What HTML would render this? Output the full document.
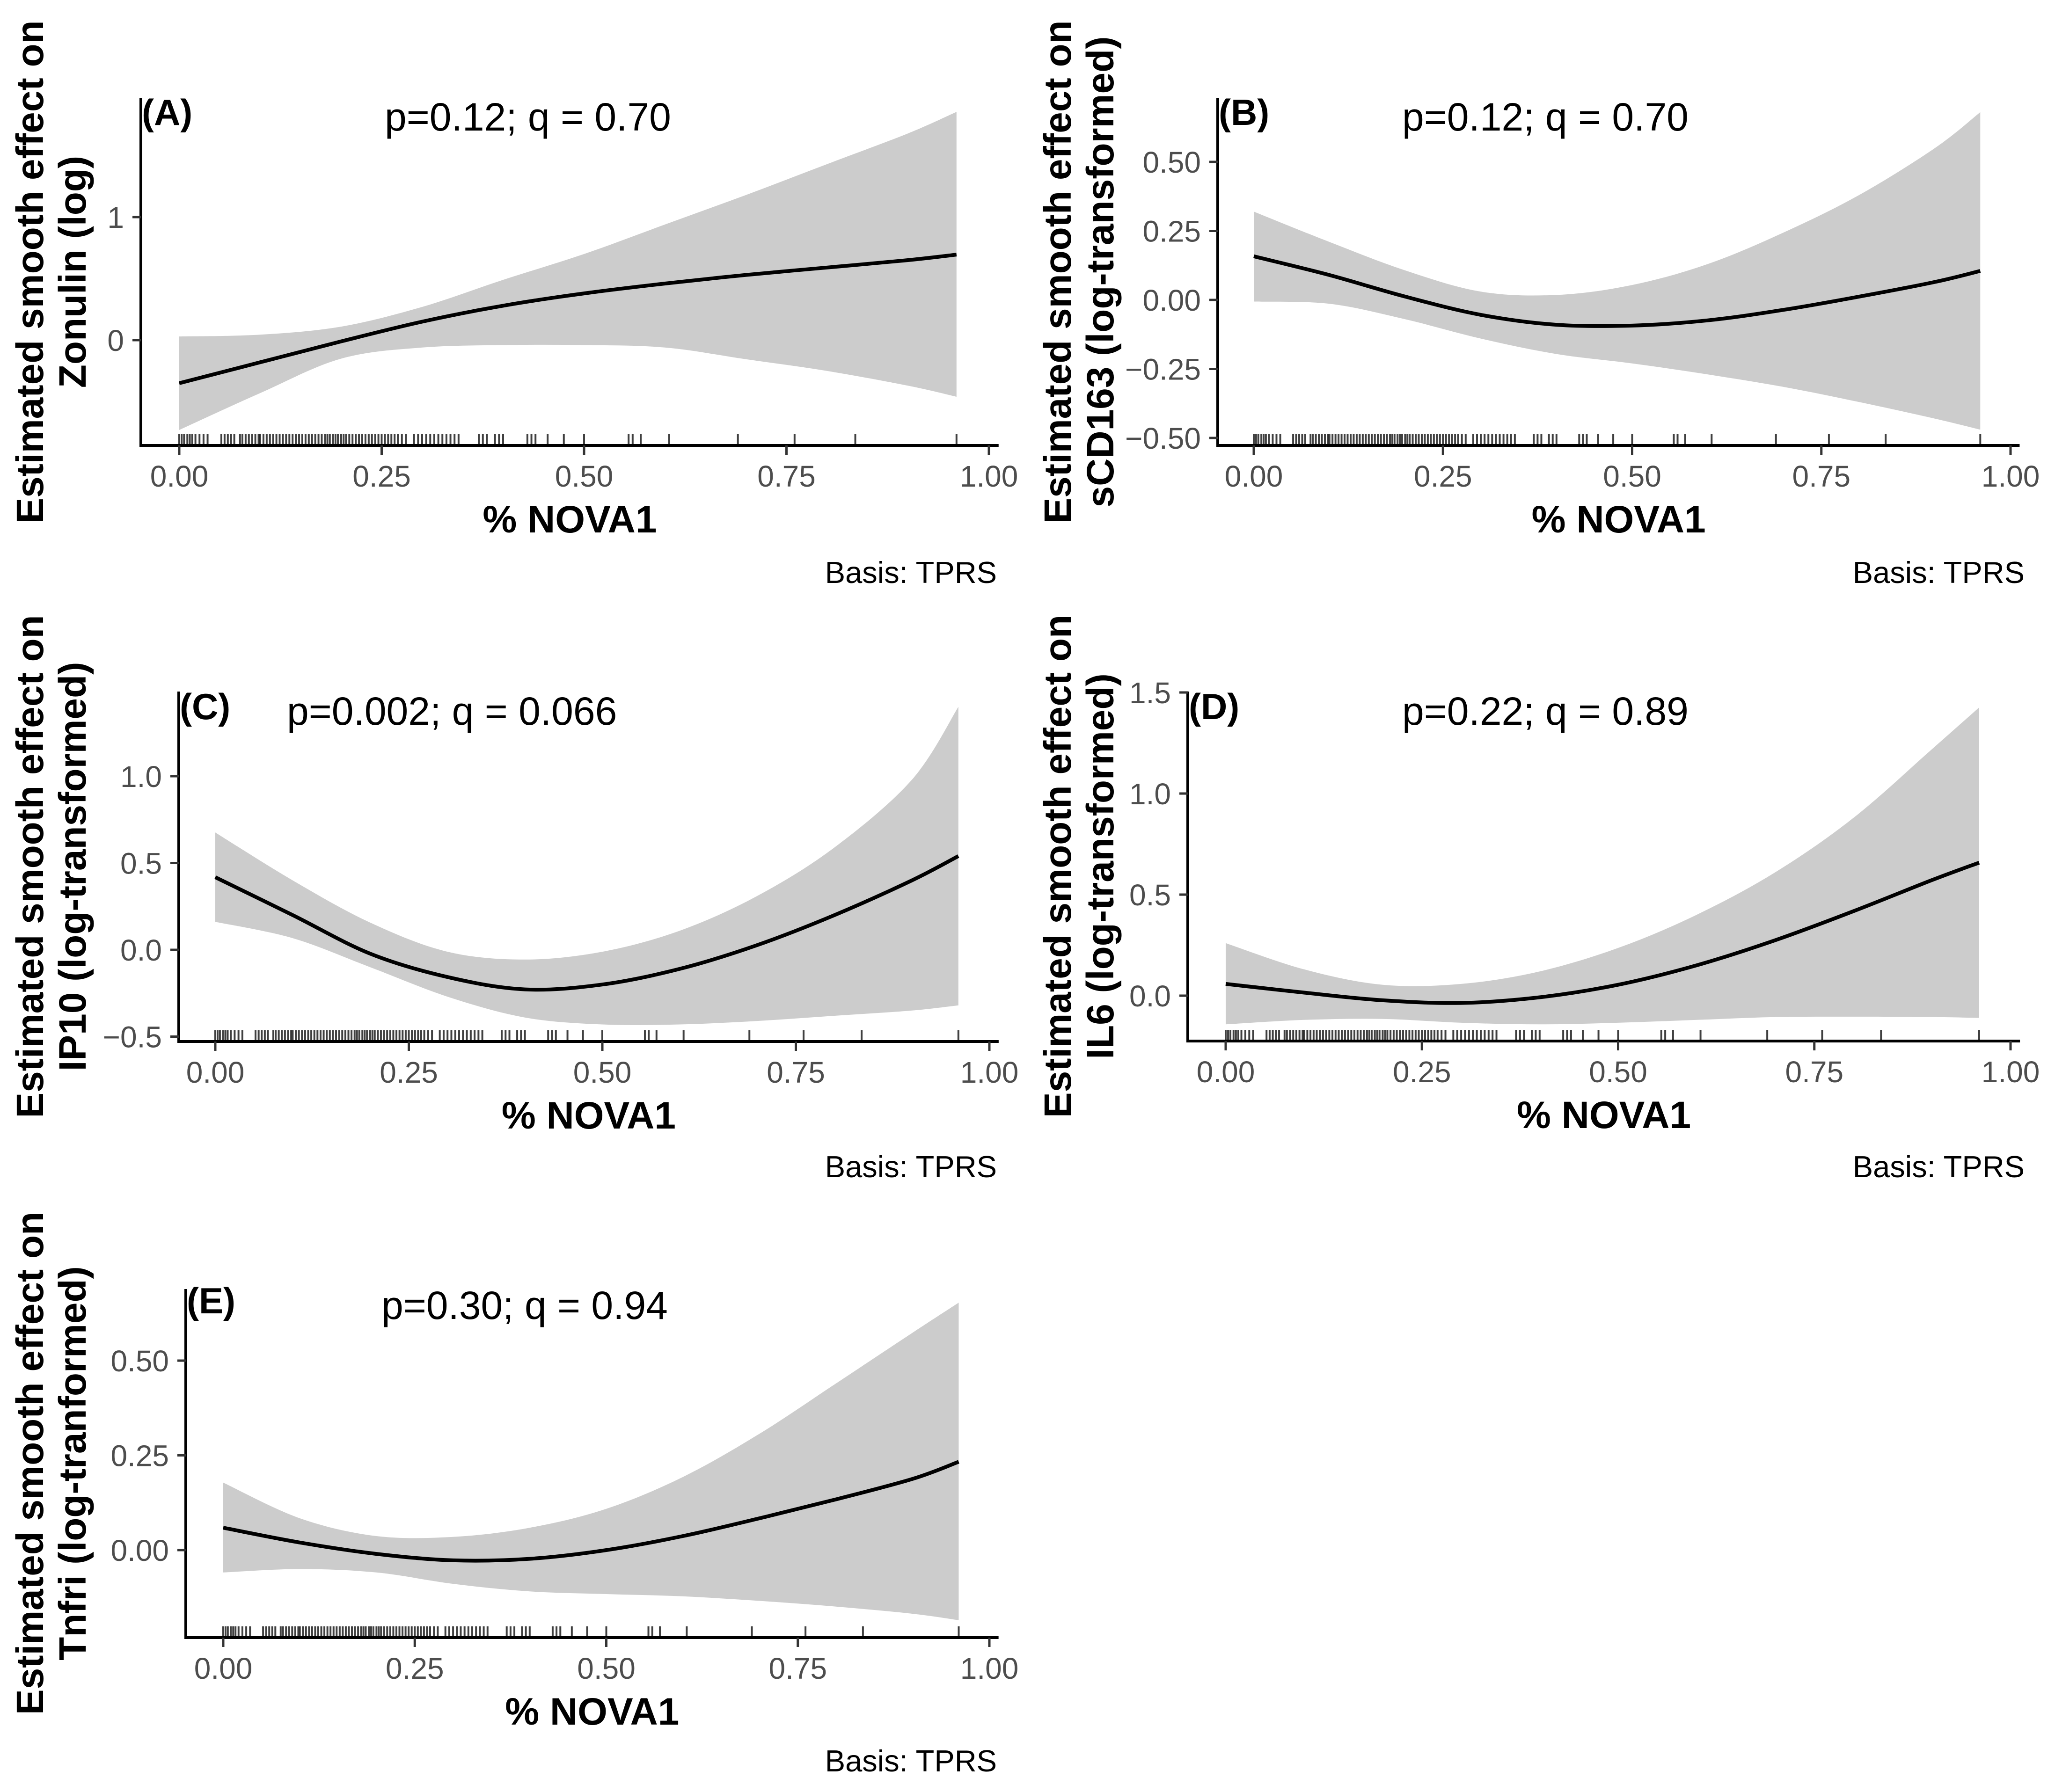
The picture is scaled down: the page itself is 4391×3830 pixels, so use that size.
<!DOCTYPE html>
<html><head><meta charset="utf-8"><style>
html,body{margin:0;padding:0;background:#fff;}
svg{display:block;}
text{font-family:"Liberation Sans",Arial,sans-serif;}
</style></head><body>
<svg id="fig" xmlns="http://www.w3.org/2000/svg" width="4391" height="3830" viewBox="0 0 4391 3830">
<rect width="4391" height="3830" fill="#fff"/>
</svg>
<script>
// x grid of evaluated points
const xGrid = [0,0.1,0.2,0.3,0.4,0.5,0.6,0.7,0.8,0.9,0.96];
// Panel A (Zonulin)
const fitA = [-0.35,-0.18,-0.01,0.15,0.28,0.38,0.46,0.53,0.59,0.65,0.695];
const upA  = [0.03,0.045,0.11,0.27,0.49,0.70,0.94,1.18,1.43,1.68,1.855];
const loA  = [-0.73,-0.43,-0.15,-0.06,-0.04,-0.04,-0.06,-0.155,-0.25,-0.37,-0.46];
// Panel B (sCD163)
const fitB = [0.158,0.09,0.012,-0.054,-0.09,-0.093,-0.074,-0.036,0.012,0.065,0.105];
const upB  = [0.32,0.21,0.107,0.03,0.018,0.054,0.13,0.244,0.38,0.55,0.68];
const loB  = [-0.006,-0.014,-0.07,-0.14,-0.196,-0.23,-0.27,-0.315,-0.37,-0.43,-0.47];
// Panel C (IP10)
const fitC = [0.418,0.2,-0.022,-0.157,-0.228,-0.2,-0.11,0.027,0.2,0.40,0.54];
const upC  = [0.676,0.40,0.157,-0.011,-0.056,-0.011,0.11,0.31,0.59,0.98,1.40];
const loC  = [0.161,0.067,-0.1,-0.27,-0.39,-0.43,-0.43,-0.41,-0.38,-0.35,-0.32];
// Panel D (IL6)
const fitD = [0.058,0.015,-0.023,-0.036,-0.008,0.054,0.15,0.274,0.418,0.572,0.658];
const upD  = [0.26,0.13,0.054,0.058,0.12,0.236,0.40,0.61,0.88,1.22,1.426];
const loD  = [-0.142,-0.12,-0.115,-0.134,-0.142,-0.134,-0.12,-0.106,-0.104,-0.106,-0.11];
// Panel E (Tnfri)
const fitE = [0.059,0.02,-0.01,-0.027,-0.023,0.0,0.037,0.084,0.134,0.188,0.233];
const upE  = [0.178,0.084,0.037,0.035,0.059,0.109,0.193,0.307,0.44,0.574,0.653];
const loE  = [-0.059,-0.05,-0.059,-0.089,-0.109,-0.116,-0.122,-0.134,-0.149,-0.168,-0.185];
// rug (observed % NOVA1 values)
const rugX = [0,0.003,0.006,0.01,0.013,0.016,0.02,0.025,0.03,0.035,0.052,0.056,0.06,0.064,0.068,0.075,0.078,0.082,0.086,0.09,0.094,0.098,0.1,0.104,0.108,0.112,0.116,0.12,0.124,0.128,0.132,0.136,0.14,0.144,0.148,0.152,0.156,0.16,0.164,0.168,0.172,0.176,0.18,0.183,0.186,0.19,0.193,0.196,0.2,0.203,0.206,0.21,0.214,0.218,0.222,0.226,0.23,0.234,0.238,0.242,0.246,0.25,0.254,0.258,0.262,0.266,0.27,0.275,0.28,0.29,0.295,0.3,0.305,0.31,0.315,0.32,0.325,0.33,0.335,0.34,0.345,0.37,0.375,0.38,0.39,0.395,0.4,0.43,0.435,0.44,0.455,0.475,0.5,0.555,0.56,0.57,0.605,0.69,0.76,0.835,0.96];
// tick labels
const xTickVals = [0,0.25,0.5,0.75,1.0];
const xTickLabels = ["0.00","0.25","0.50","0.75","1.00"];
const yTicksA = [0,1], yLabA = ["0","1"];
const yTicksB = [-0.5,-0.25,0,0.25,0.5], yLabB = ["\u22120.50","\u22120.25","0.00","0.25","0.50"];
const yTicksC = [-0.5,0,0.5,1.0], yLabC = ["\u22120.5","0.0","0.5","1.0"];
const yTicksD = [0,0.5,1.0,1.5], yLabD = ["0.0","0.5","1.0","1.5"];
const yTicksE = [0,0.25,0.5], yLabE = ["0.00","0.25","0.50"];

const NS = "http://www.w3.org/2000/svg";
const svg = document.getElementById('fig');
function mk(tag, attrs, parent){
  const e = document.createElementNS(NS, tag);
  for (const k in attrs) e.setAttribute(k, attrs[k]);
  (parent||svg).appendChild(e);
  return e;
}
function smoothPath(pts){
  let d = "M" + pts[0][0].toFixed(1) + "," + pts[0][1].toFixed(1);
  for (let i=0;i<pts.length-1;i++){
    const p0 = pts[Math.max(0,i-1)], p1 = pts[i], p2 = pts[i+1], p3 = pts[Math.min(pts.length-1,i+2)];
    const c1x = p1[0] + (p2[0]-p0[0])/6, c1y = p1[1] + (p2[1]-p0[1])/6;
    const c2x = p2[0] - (p3[0]-p1[0])/6, c2y = p2[1] - (p3[1]-p1[1])/6;
    d += " C" + c1x.toFixed(1)+","+c1y.toFixed(1)+" "+c2x.toFixed(1)+","+c2y.toFixed(1)+" "+p2[0].toFixed(1)+","+p2[1].toFixed(1);
  }
  return d;
}

const panels = [
  {id:"a", ox:0, oy:0, x0:383, x1:2113, axL:301, yZero:727, unit:263, top:210, bot:952,
   fit:fitA, up:upA, lo:loA, yt:yTicksA, yl:yLabA, label:"(A)", title:"p=0.12; q = 0.70", titleX:822,
   yTitle:["Estimated smooth effect on","Zonulin (log)"]},
  {id:"b", ox:2196, oy:0, x0:2679, x1:4296, axL:2602, yZero:641, unit:590, top:210, bot:952,
   fit:fitB, up:upB, lo:loB, yt:yTicksB, yl:yLabB, label:"(B)", title:"p=0.12; q = 0.70", titleX:2996,
   yTitle:["Estimated smooth effect on","sCD163 (log-transformed)"]},
  {id:"c", ox:0, oy:1270, x0:460, x1:2114, axL:382, yZero:2030, unit:371, top:1478, bot:2226,
   fit:fitC, up:upC, lo:loC, yt:yTicksC, yl:yLabC, label:"(C)", title:"p=0.002; q = 0.066", titleX:613,
   yTitle:["Estimated smooth effect on","IP10 (log-transformed)"]},
  {id:"d", ox:2196, oy:1270, x0:2619, x1:4296, axL:2538, yZero:2128, unit:432, top:1478, bot:2225,
   fit:fitD, up:upD, lo:loD, yt:yTicksD, yl:yLabD, label:"(D)", title:"p=0.22; q = 0.89", titleX:2996,
   yTitle:["Estimated smooth effect on","IL6 (log-transformed)"]},
  {id:"e", ox:0, oy:2540, x0:477, x1:2114, axL:397, yZero:3313, unit:810, top:2755, bot:3500,
   fit:fitE, up:upE, lo:loE, yt:yTicksE, yl:yLabE, label:"(E)", title:"p=0.30; q = 0.94", titleX:815,
   yTitle:["Estimated smooth effect on","Tnfri (log-tranformed)"]}
];

panels.forEach(P => {
  const g = mk('g', {});
  
  
  const X = v => P.x0 + v*(P.x1-P.x0);
  const Y = v => P.yZero - v*P.unit;
  const axR = P.x1 + 0.012*(P.x1-P.x0);

  const upPts = xGrid.map((x,i)=>[X(x),Y(P.up[i])]);
  const loPts = xGrid.map((x,i)=>[X(x),Y(P.lo[i])]).reverse();
  let d = smoothPath(upPts);
  d += " L" + loPts[0][0].toFixed(1)+","+loPts[0][1].toFixed(1) + smoothPath(loPts).replace(/^M[^ ]+/,'') + " Z";
  const band = mk('path', {d:d, fill:'#cccccc', stroke:'none'}, g);
  
  

  const fitPts = xGrid.map((x,i)=>[X(x),Y(P.fit[i])]);
  const line = mk('path', {d:smoothPath(fitPts), fill:'none', stroke:'#000', 'stroke-width':8}, g);
  
  

  const rug = mk('g', {stroke:'#000', 'stroke-opacity':0.75, 'stroke-width':4}, g);
  
  
  rugX.forEach(v => {
    const r = mk('line', {x1:X(v), x2:X(v), y1:P.bot-24, y2:P.bot}, rug);
    
    
  });

  const ax = mk('path', {d:`M${P.axL},${P.top} L${P.axL},${P.bot} L${axR},${P.bot}`, fill:'none', stroke:'#000', 'stroke-width':6}, g);
  
  

  xTickVals.forEach((v,i) => {
    const t = mk('line', {x1:X(v), x2:X(v), y1:P.bot, y2:P.bot+20, stroke:'#333', 'stroke-width':5}, g);
    
    
    const tl = mk('text', {x:X(v), y:P.bot+88, 'text-anchor':'middle', 'font-size':64, fill:'#4d4d4d'}, g);
    tl.textContent = xTickLabels[i];
    
    
  });
  P.yt.forEach((v,i) => {
    const t = mk('line', {x1:P.axL-18, x2:P.axL, y1:Y(v), y2:Y(v), stroke:'#333', 'stroke-width':5}, g);
    
    
    const tl = mk('text', {x:P.axL-36, y:Y(v)+23, 'text-anchor':'end', 'font-size':64, fill:'#4d4d4d'}, g);
    tl.textContent = P.yl[i];
    
    
  });

  const xt = mk('text', {x:(P.axL+axR)/2, y:P.bot+186, 'text-anchor':'middle', 'font-size':82, 'font-weight':'bold', fill:'#000'}, g);
  xt.textContent = "% NOVA1";
  
  

  const cy = (P.top+P.bot)/2;
  P.yTitle.forEach((s,k) => {
    const bx = P.ox + 92 + k*91;
    const yt = mk('text', {x:0, y:0, transform:`translate(${bx},${cy}) rotate(-90)`, 'text-anchor':'middle', 'font-size':82, 'font-weight':'bold', fill:'#000'}, g);
    yt.textContent = s;
    
    
  });

  const pl = mk('text', {x:P.axL+2, y:P.oy+267, 'font-size':78, 'font-weight':'bold', fill:'#000'}, g);
  pl.textContent = P.label;
  
  

  const st = mk('text', {x:P.titleX, y:P.oy+279, 'font-size':84, fill:'#000'}, g);
  st.textContent = P.title;
  
  

  const cap = mk('text', {x:P.ox+2130, y:P.oy+1246, 'text-anchor':'end', 'font-size':65, fill:'#000'}, g);
  cap.textContent = "Basis: TPRS";
  
  
});
</script>
</body></html>
